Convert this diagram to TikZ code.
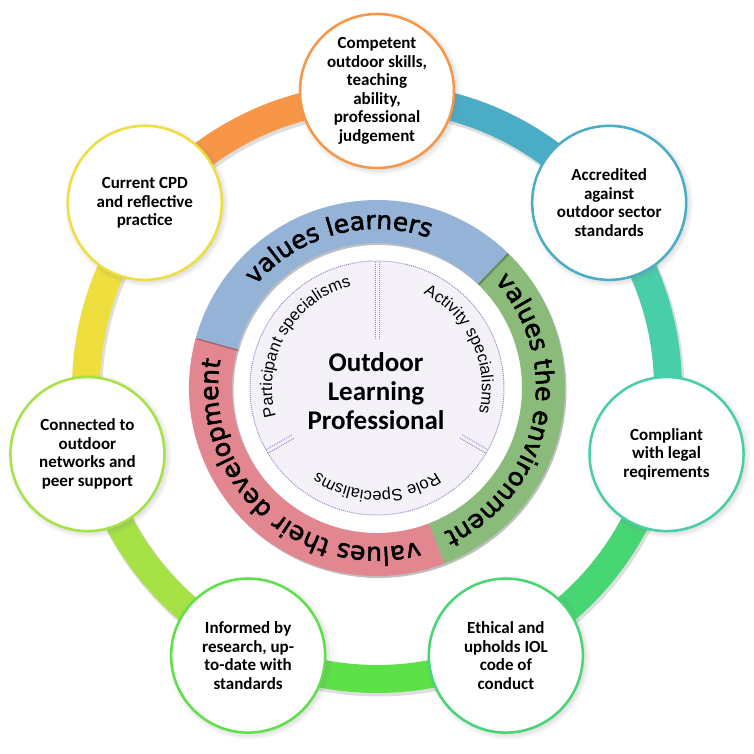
\documentclass[tikz,border=0pt]{standalone}
\usepackage{fontspec}
\setmainfont{Carlito}
\newfontfamily\dejavu{DejaVu Sans}[FakeBold=2]
\newfontfamily\libsans{Liberation Sans}
\usetikzlibrary{decorations.text,shadows}
\definecolor{cOrange}{HTML}{F79646}
\definecolor{cTeal}{HTML}{4BACC6}
\definecolor{cTurq}{HTML}{48CFA9}
\definecolor{cGreen}{HTML}{47D673}
\definecolor{cBright}{HTML}{5DE048}
\definecolor{cYG}{HTML}{A6E245}
\definecolor{cYellow}{HTML}{EEDE3E}
\definecolor{bBlue}{HTML}{95B3D7}
\definecolor{bGreen}{HTML}{8BBB7B}
\definecolor{bRed}{HTML}{E2868F}
\definecolor{cLav}{HTML}{F4F2F8}
\definecolor{cPurple}{HTML}{9A88C8}
\begin{document}
\begin{tikzpicture}[x=1pt,y=1pt,
  outerc/.style={circle, fill=white, line width=2.5pt, minimum size=154pt, inner sep=0pt, align=center,
    font=\bfseries\fontsize{17}{18.5}\selectfont,
    circular drop shadow={shadow scale=1.07, shadow xshift=1.5pt, shadow yshift=-1.5pt, opacity=0.45}},
  ringshadow/.style={line width=30pt, black, opacity=0.13},
  bandshadow/.style={black, opacity=0.25},
  divline/.style={draw=cPurple, line width=1pt, dash pattern=on 1pt off 1pt},
]
\useasboundingbox (-377,-366) rectangle (377,388);
% outer ring segments
\foreach \s/\e/\c in {90/38.571/cTeal, 38.571/-12.857/cTurq, -12.857/-64.286/cGreen,
  -64.286/-115.714/cBright, -115.714/-167.143/cYG, -167.143/-218.571/cYellow, 141.429/90/cOrange}{
  \draw[ringshadow] ([shift={(1.5,-2.5)}]\s:291) arc[start angle=\s, end angle=\e, radius=291];
  \draw[line width=28pt, \c] (\s:291) arc[start angle=\s, end angle=\e, radius=291];
}
% outer circles
\node[outerc, draw=cOrange] (c1) at (90:297) {Competent\\outdoor skills,\\teaching\\ability,\\professional\\judgement};
\node[outerc, draw=cTeal] (c2) at (38.571:297) {Accredited\\against\\outdoor sector\\standards};
\node[outerc, draw=cTurq] (c3) at (-12.857:297) {Compliant\\with legal\\reqirements};
\node[outerc, draw=cGreen] (c4) at (-64.286:297) {Ethical and\\upholds IOL\\code of\\conduct};
\node[outerc, draw=cBright] (c5) at (-115.714:297) {Informed by\\research, up-\\to-date with\\standards};
\node[outerc, draw=cYG] (c6) at (-167.143:297) {Connected to\\outdoor\\networks and\\peer support};
\node[outerc, draw=cYellow] (c7) at (141.429:297) {Current CPD\\and reflective\\practice};
% inner bands
\fill[bandshadow] ([shift={(1.5,-2)}]-69:145) arc[start angle=-69, end angle=-196, radius=145] -- ([shift={(1.5,-2)}]-196:188) arc[start angle=-196, end angle=-69, radius=188] -- cycle;
\fill[bRed] (-69:145) arc[start angle=-69, end angle=-196, radius=145] -- (-196:188) arc[start angle=-196, end angle=-69, radius=188] -- cycle;
\fill[bandshadow] ([shift={(1.5,-2)}]46:145) arc[start angle=46, end angle=-69, radius=145] -- ([shift={(1.5,-2)}]-69:188) arc[start angle=-69, end angle=46, radius=188] -- cycle;
\fill[bGreen] (46:145) arc[start angle=46, end angle=-69, radius=145] -- (-69:188) arc[start angle=-69, end angle=46, radius=188] -- cycle;
\fill[bandshadow] ([shift={(1.5,-2)}]164.5:145) arc[start angle=164.5, end angle=46, radius=145] -- ([shift={(1.5,-2)}]46:188) arc[start angle=46, end angle=164.5, radius=188] -- cycle;
\fill[bBlue] (164.5:145) arc[start angle=164.5, end angle=46, radius=145] -- (46:188) arc[start angle=46, end angle=164.5, radius=188] -- cycle;
% band texts
\path[decorate, decoration={text along path, text align=center,
  text={|\dejavu\fontsize{25}{25}\selectfont|values learners}}]
  (164.5:159) arc[start angle=164.5, end angle=46, radius=159];
\path[decorate, decoration={text along path, text align=center,
  text={|\dejavu\fontsize{25}{25}\selectfont|values the environment}}]
  (46:159) arc[start angle=46, end angle=-69, radius=159];
\path[decorate, decoration={text along path, text align=center,
  text={|\dejavu\fontsize{25}{25}\selectfont|values their development}}]
  (-69:159) arc[start angle=-69, end angle=-196, radius=159];
% inner circle
\fill[cLav] (0,0) circle[radius=127];
\draw[divline] (0,0) circle[radius=127];
\foreach \a/\r in {90/48, 210/97, 330/97}{
  \draw[divline] ([shift={({\a+90}:2)}]\a:126) -- ([shift={({\a+90}:2)}]\a:\r);
  \draw[divline] ([shift={({\a-90}:2)}]\a:126) -- ([shift={({\a-90}:2)}]\a:\r);
}
\path[decorate, decoration={text along path, text align=center,
  text={|\libsans\fontsize{16.5}{17}\selectfont|Participant specialisms}}]
  (205:105) arc[start angle=205, end angle=95, radius=105];
\path[decorate, decoration={text along path, text align=center,
  text={|\libsans\fontsize{16.5}{17}\selectfont|Activity specialisms}}]
  (80:105) arc[start angle=80, end angle=-30, radius=105];
\path[decorate, decoration={text along path, text align=center,
  text={|\libsans\fontsize{16.5}{17}\selectfont|Role Specialisms}}]
  (-30:103) arc[start angle=-30, end angle=-150, radius=103];
\node[font=\bfseries\fontsize{27}{29}\selectfont, align=center] (title) at (-1,-3) {Outdoor\\Learning\\Professional};
\end{tikzpicture}
\end{document}
